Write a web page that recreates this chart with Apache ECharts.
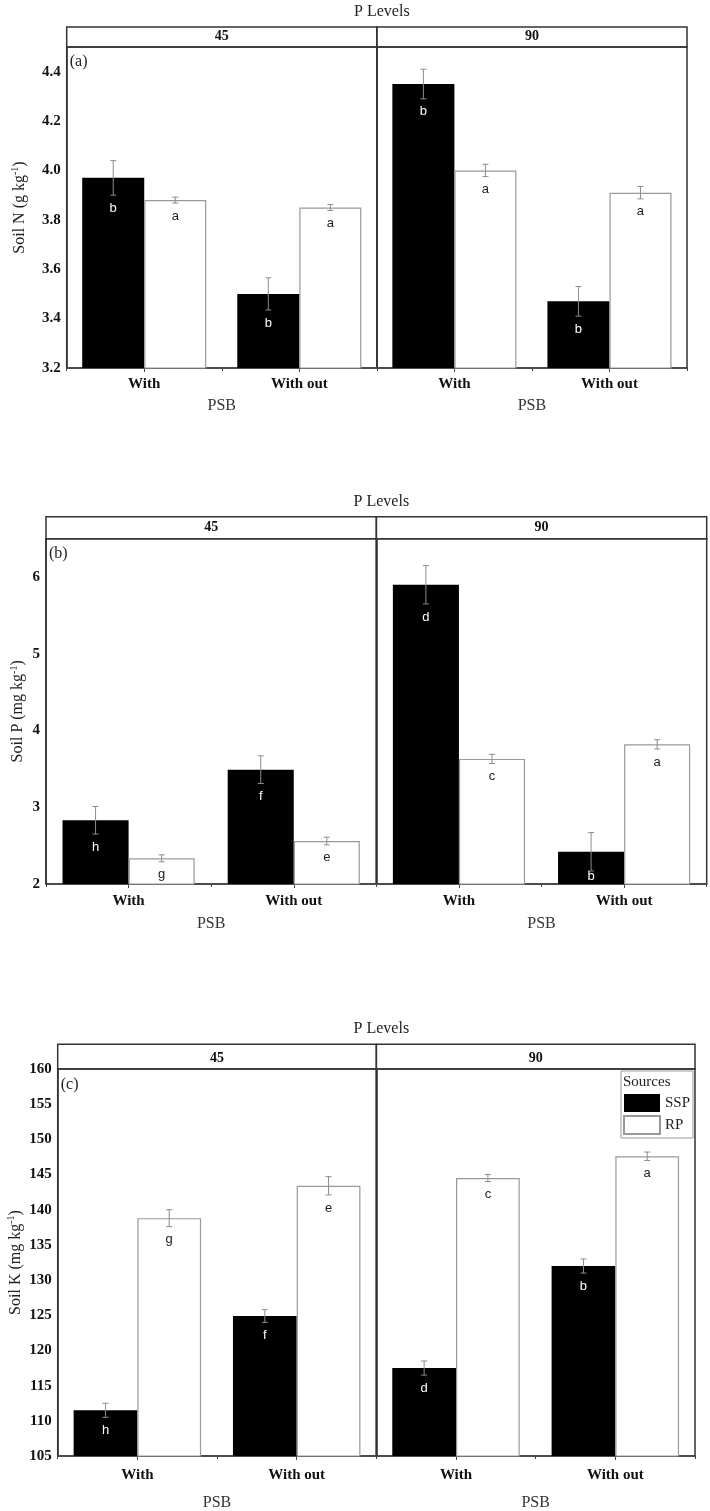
<!DOCTYPE html>
<html>
<head>
<meta charset="utf-8">
<script src="https://cdn.jsdelivr.net/npm/echarts@6/dist/echarts.min.js"></script>
<style>
html, body { margin: 0; padding: 0; background: #fff; }
#chart { width: 710px; height: 1511px; }
</style>
</head>
<body>
<div id="chart"></div>
<script>
// categories
var psb = ['With', 'With out'];
var pLevels = ['45', '90'];
var sources = ['SSP', 'RP'];

// (a) soil N, g/kg
var nSSP45 = [3.97, 3.50], nRP45 = [3.88, 3.85];
var nSSP90 = [4.35, 3.47], nRP90 = [4.00, 3.91];
var nSSP45Err = [0.07, 0.065], nRP45Err = [0.012, 0.012];
var nSSP90Err = [0.06, 0.06], nRP90Err = [0.025, 0.025];
var nSSP45Let = ['b', 'b'], nRP45Let = ['a', 'a'];
var nSSP90Let = ['b', 'b'], nRP90Let = ['a', 'a'];

// (b) soil P, mg/kg
var pSSP45 = [2.83, 3.49], pRP45 = [2.335, 2.56];
var pSSP90 = [5.90, 2.42], pRP90 = [3.63, 3.82];
var pSSP45Err = [0.18, 0.18], pRP45Err = [0.045, 0.05];
var pSSP90Err = [0.25, 0.25], pRP90Err = [0.06, 0.06];
var pSSP45Let = ['h', 'f'], pRP45Let = ['g', 'e'];
var pSSP90Let = ['d', 'b'], pRP90Let = ['c', 'a'];

// (c) soil K, mg/kg
var kSSP45 = [111.5, 124.9], kRP45 = [138.8, 143.4];
var kSSP90 = [117.5, 132.0], kRP90 = [144.5, 147.6];
var kSSP45Err = [1.0, 0.9], kRP45Err = [1.2, 1.3];
var kSSP90Err = [1.0, 1.0], kRP90Err = [0.5, 0.6];
var kSSP45Let = ['h', 'f'], kRP45Let = ['g', 'e'];
var kSSP90Let = ['d', 'b'], kRP90Let = ['c', 'a'];

var SERIF = '"Liberation Serif", "Times New Roman", serif';
var SANS = '"Liberation Sans", Arial, sans-serif';

var panels = [
  { tag: '(a)', yName: 'Soil N (g kg', left: 66.7, right: 687, stripTop: 27, top: 47, bottom: 368,
    min: 3.2, max: 4.5, step: 0.2, dec: 1, showMax: false, nameGap: 38, psbGap: 30, labelMargin: 9, titleTop: -1, tagTop: 49,
    facets: [
      { ssp: nSSP45, rp: nRP45, sspErr: nSSP45Err, rpErr: nRP45Err, sspLet: nSSP45Let, rpLet: nRP45Let },
      { ssp: nSSP90, rp: nRP90, sspErr: nSSP90Err, rpErr: nRP90Err, sspLet: nSSP90Let, rpLet: nRP90Let }
    ] },
  { tag: '(b)', yName: 'Soil P (mg kg', left: 46, right: 706.7, stripTop: 516.7, top: 538.7, bottom: 884,
    min: 2, max: 6.5, step: 1, dec: 0, showMax: false, nameGap: 19, psbGap: 32, labelMargin: 10, titleTop: 489, tagTop: 541,
    facets: [
      { ssp: pSSP45, rp: pRP45, sspErr: pSSP45Err, rpErr: pRP45Err, sspLet: pSSP45Let, rpLet: pRP45Let },
      { ssp: pSSP90, rp: pRP90, sspErr: pSSP90Err, rpErr: pRP90Err, sspLet: pSSP90Let, rpLet: pRP90Let }
    ] },
  { tag: '(c)', yName: 'Soil K (mg kg', left: 57.7, right: 695, stripTop: 1044.3, top: 1069, bottom: 1456,
    min: 105, max: 160, step: 5, dec: 0, showMax: true, nameGap: 33, psbGap: 39, labelMargin: 12, titleTop: 1016, tagTop: 1072,
    facets: [
      { ssp: kSSP45, rp: kRP45, sspErr: kSSP45Err, rpErr: kRP45Err, sspLet: kSSP45Let, rpLet: kRP45Let },
      { ssp: kSSP90, rp: kRP90, sspErr: kSSP90Err, rpErr: kRP90Err, sspLet: kSSP90Let, rpLet: kRP90Let }
    ] }
];

// error bar + significance letter, positioned from the axis scale (bars are 40% of a band)
function makeErrorItem(lets, yMin) {
  return function (params, api) {
    var cat = api.value(0), side = api.value(1), mean = api.value(2), err = api.value(3);
    var band = api.size([1, 0])[0];
    var off = (side === 0 ? -0.2 : 0.2) * band;
    var hi = api.coord([cat, mean + err]);
    var lo = api.coord([cat, mean - err]);
    var base = api.coord([cat, yMin]);
    var x = hi[0] + off, cap = 3;
    var st = { stroke: '#8c8c8c', lineWidth: 1 };
    var ty = Math.min(lo[1] + 13, base[1] - 8);
    return {
      type: 'group',
      children: [
        { type: 'line', shape: { x1: x, y1: hi[1], x2: x, y2: lo[1] }, style: st },
        { type: 'line', shape: { x1: x - cap, y1: hi[1], x2: x + cap, y2: hi[1] }, style: st },
        { type: 'line', shape: { x1: x - cap, y1: lo[1], x2: x + cap, y2: lo[1] }, style: st },
        { type: 'text', z2: 10, style: { text: lets[params.dataIndex], x: x, y: ty, align: 'center', verticalAlign: 'middle',
          fill: side === 0 ? '#fff' : '#222', fontFamily: SANS, fontSize: 13 } }
      ]
    };
  };
}

var grid = [], xAxis = [], yAxis = [], series = [], title = [];

panels.forEach(function (p) {
  var fw = (p.right - p.left) / 2;
  title.push({
    text: 'P Levels', left: (p.left + p.right) / 2, top: p.titleTop, textAlign: 'center',
    textStyle: { fontFamily: SERIF, fontSize: 16, fontWeight: 'normal', color: '#222' }
  });
  title.push({
    text: p.tag, left: p.left - 2, top: p.tagTop,
    textStyle: { fontFamily: SERIF, fontSize: 16, fontWeight: 'normal', color: '#222' }
  });

  p.facets.forEach(function (f, fi) {
    var gx = p.left + fi * fw;
    // plot area
    var gi = grid.length;
    grid.push({ left: gx, top: p.top, width: fw, height: p.bottom - p.top, show: true,
      borderColor: '#333', borderWidth: 1.5, outerBoundsMode: 'none' });
    xAxis.push({
      type: 'category', gridIndex: gi, position: 'bottom', data: psb,
      axisLine: { lineStyle: { color: '#444', width: 1.5 } },
      axisTick: { show: true, length: 3, lineStyle: { color: '#444' } },
      axisLabel: { fontFamily: SERIF, fontSize: 15, fontWeight: 'bold', color: '#111', margin: p.labelMargin },
      name: 'PSB', nameLocation: 'middle', nameGap: p.psbGap,
      nameTextStyle: { fontFamily: SERIF, fontSize: 16, color: '#333' }
    });
    var xi = xAxis.length - 1;
    // ticks under the category centres
    xAxis.push({
      type: 'category', gridIndex: gi, position: 'bottom', data: psb,
      axisLine: { show: false }, axisLabel: { show: false },
      axisTick: { show: true, alignWithLabel: true, length: 4, lineStyle: { color: '#444' } }
    });
    yAxis.push({
      type: 'value', gridIndex: gi, min: p.min, max: p.max, interval: p.step,
      splitLine: { show: false },
      axisLine: { show: true, lineStyle: { color: '#333', width: 1.5 } },
      axisTick: { show: false },
      axisLabel: {
        show: fi === 0, showMaxLabel: p.showMax, margin: 6,
        fontFamily: SERIF, fontSize: 15, fontWeight: 'bold', color: '#111',
        formatter: function (v) { return v.toFixed(p.dec); }
      },
      name: fi === 0 ? '{m|' + p.yName + '}{s|-1}{m|)}' : '',
      nameLocation: 'middle', nameGap: p.nameGap,
      nameTextStyle: {
        rich: {
          m: { fontFamily: SERIF, fontSize: 16, color: '#222', lineHeight: 18 },
          s: { fontFamily: SERIF, fontSize: 10, color: '#222', lineHeight: 10, verticalAlign: 'top' }
        }
      }
    });
    var yi = yAxis.length - 1;

    series.push({
      name: 'SSP', type: 'bar', xAxisIndex: xi, yAxisIndex: yi,
      data: f.ssp, barGap: 0, barCategoryGap: '20%',
      itemStyle: { color: '#000' }
    });
    series.push({
      name: 'RP', type: 'bar', xAxisIndex: xi, yAxisIndex: yi,
      data: f.rp, barGap: 0, barCategoryGap: '20%',
      itemStyle: { color: '#fff', borderColor: '#999', borderWidth: 1.2 }
    });
    var errData = [], lets = [];
    for (var i = 0; i < psb.length; i++) {
      errData.push([i, 0, f.ssp[i], f.sspErr[i]]);
      lets.push(f.sspLet[i]);
      errData.push([i, 1, f.rp[i], f.rpErr[i]]);
      lets.push(f.rpLet[i]);
    }
    series.push({
      type: 'custom', xAxisIndex: xi, yAxisIndex: yi,
      renderItem: makeErrorItem(lets, p.min), data: errData, encode: { x: 0, y: 2 }, z: 5, silent: true
    });

    // strip with the P level
    var si = grid.length;
    grid.push({ left: gx, top: p.stripTop, width: fw, height: p.top - p.stripTop, show: true,
      borderColor: '#333', borderWidth: 1.5, outerBoundsMode: 'none' });
    xAxis.push({
      type: 'category', gridIndex: si, position: 'bottom', data: [pLevels[fi]],
      axisLine: { show: false }, axisTick: { show: false },
      axisLabel: { inside: true, margin: 4, fontFamily: SERIF, fontSize: 14, fontWeight: 'bold', color: '#111' }
    });
    yAxis.push({ type: 'value', gridIndex: si, show: false });
  });
});

title.push({
  text: 'Sources', left: 618, top: 1070,
  textStyle: { fontFamily: SERIF, fontSize: 15, fontWeight: 'normal', color: '#222' }
});

var chart = echarts.init(document.getElementById('chart'));
chart.setOption({
  animation: false,
  backgroundColor: '#fff',
  title: title,
  legend: {
    data: sources, orient: 'vertical', left: 621, top: 1071,
    icon: 'rect', itemWidth: 36, itemHeight: 18, itemGap: 3,
    borderColor: '#999', borderWidth: 1, padding: [23, 3, 3, 2],
    textStyle: { fontFamily: SERIF, fontSize: 15, color: '#222' }
  },
  grid: grid,
  xAxis: xAxis,
  yAxis: yAxis,
  series: series
});
</script>
</body>
</html>
